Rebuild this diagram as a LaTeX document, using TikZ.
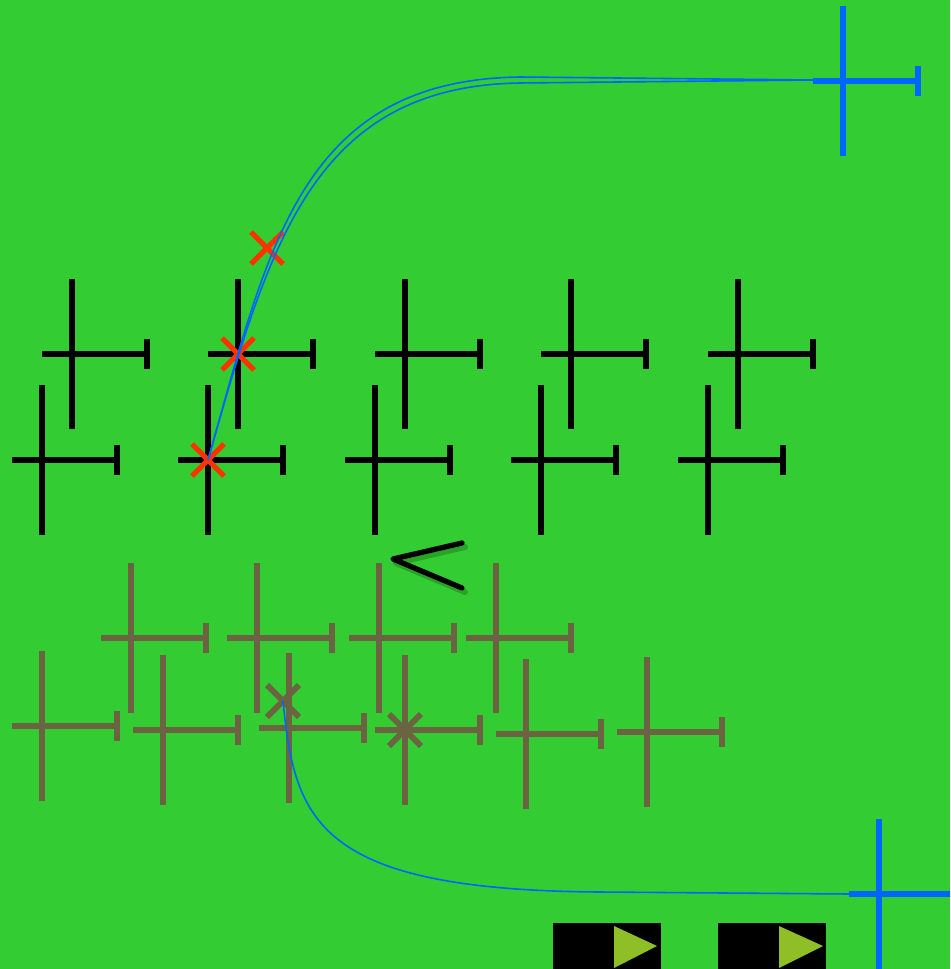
\documentclass[tikz,border=0pt]{standalone}
\usepackage{xcolor}
\usepackage{tikz}

\definecolor{field}{RGB}{51,204,51}
\definecolor{mud}{RGB}{107,99,66}
\definecolor{sky}{RGB}{0,102,255}
\definecolor{flame}{RGB}{255,51,0}
\definecolor{leaf}{RGB}{143,191,38}

\tikzset{
  tbar/.pic={
    \draw (0,-75) -- (0,75);
    \draw (-30,0) -- (75,0);
    \draw (75,-15) -- (75,15);
  },
  xmark/.pic={
    \draw (-16,-16) -- (16,16);
    \draw (-16,16) -- (16,-16);
  },
  ink/.style={black, line width=3.4pt},
  mudink/.style={mud, line width=3.4pt},
  skyink/.style={sky, line width=3.9pt},
  wire/.style={sky, line width=0.9pt},
}

\begin{document}
\begin{tikzpicture}[x=0.02cm, y=-0.02cm]
    \fill[field] (0,0) rectangle (950,969);
    \clip (0,0) rectangle (950,969);

    % black rows
    \foreach \x [count=\i] in {72,238,405,571,738} {
        \coordinate (t\i) at (\x,354);
        \pic[ink] at (t\i) {tbar};
    }
    \foreach \x [count=\i] in {42,208,375,541,708} {
        \coordinate (b\i) at (\x,460);
        \pic[ink] at (b\i) {tbar};
    }

    % brown rows
    \foreach \x [count=\i] in {131,257,379,496} {
        \coordinate (u\i) at (\x,638);
        \pic[mudink] at (u\i) {tbar};
    }
    \foreach \x/\y [count=\i] in {42/726,163/730,289/728,405/730,526/734,647/732} {
        \coordinate (v\i) at (\x,\y);
        \pic[mudink] at (v\i) {tbar};
    }

    % blue crosses
    \coordinate (s1) at (843,81);
    \coordinate (s2) at (879,894);
    \pic[skyink] at (s1) {tbar};
    \pic[skyink] at (s2) {tbar};
    \coordinate (s1w) at (813,80);
    \coordinate (s2w) at (849,894);

    % marks
    \coordinate (r1) at (267,248);
    \coordinate (m) at (283,701);
    \pic[flame, line width=3pt] at (r1) {xmark};
    \pic[flame, line width=3pt] at (t2) {xmark};
    \pic[flame, line width=3pt] at (b2) {xmark};
    \pic[mudink] at (m) {xmark};
    \pic[mudink] at (v4) {xmark};

    % curves
    \coordinate (k1) at (520,77);
    \coordinate (k2) at (520,83);
    \coordinate (k3) at (600,892);
    \draw[wire] (b2) .. controls (268,248) and (300,80) .. (k1) -- (s1w);
    \draw[wire] (b2) .. controls (268,250) and (310,86) .. (k2) -- (s1w);
    \draw[wire] (m) .. controls (295,820) and (315,890) .. (k3) -- (s2w);

    % the angle
    \draw[black, opacity=0.2, line width=3.4pt, line cap=round, line join=round]
        (465,547) -- (396,563) -- (465,592);
    \draw[black, line width=3pt, line cap=round, line join=round]
        (462,543) -- (393,559) -- (462,588);

    % play boxes
    \fill[black] (553,923) rectangle (661,975);
    \fill[leaf] (614,926) -- (657,946) -- (614,968) -- cycle;
    \fill[black] (718,923) rectangle (826,975);
    \fill[leaf] (779,926) -- (823,946) -- (779,968) -- cycle;
\end{tikzpicture}
\end{document}
